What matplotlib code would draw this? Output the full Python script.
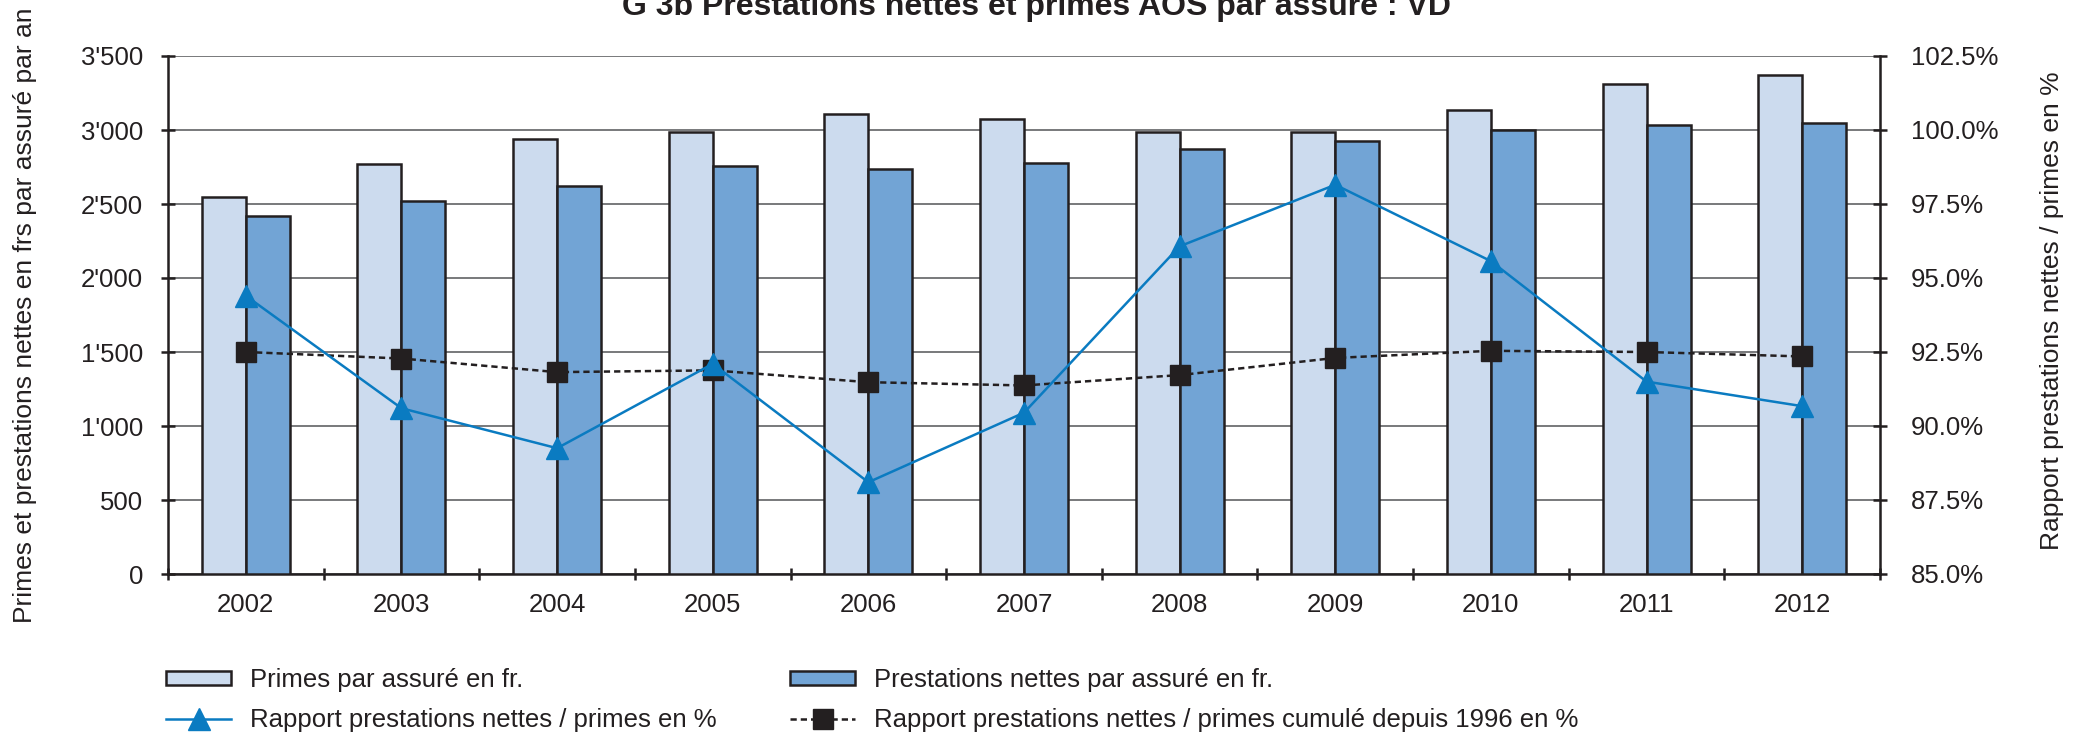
import matplotlib
matplotlib.use("Agg")
import matplotlib.pyplot as plt
import numpy as np
from matplotlib.patches import Patch
from matplotlib.lines import Line2D
from matplotlib.ticker import FuncFormatter, FixedLocator

plt.rcParams['font.family'] = ['Liberation Sans', 'DejaVu Sans']

# data
years = ['2002', '2003', '2004', '2005', '2006', '2007', '2008', '2009', '2010', '2011', '2012']
primes = [2547, 2768, 2942, 2986, 3106, 3077, 2986, 2986, 3133, 3312, 3369]
prestations = [2416, 2518, 2621, 2754, 2739, 2780, 2872, 2928, 3003, 3031, 3046]
rapport = [94.4, 90.6, 89.25, 92.1, 88.1, 90.45, 96.07, 98.15, 95.57, 91.5, 90.67]
rapport_cumul = [92.5, 92.28, 91.82, 91.88, 91.48, 91.37, 91.72, 92.3, 92.54, 92.5, 92.35]

c_primes = '#CCDBEE'
c_prest = '#72A4D5'
c_line = '#0A7BC1'
c_black = '#231F20'
c_grid = '#6D6E71'

W, H = 2087, 737
fig = plt.figure(figsize=(W / 100, H / 100), dpi=100)
ax = fig.add_axes([168 / W, 1 - 574 / H, (1880 - 168) / W, (574 - 56) / H])
ax2 = ax.twinx()

x = np.arange(len(years))
bw = 0.283
ax.bar(x - bw / 2, primes, bw, color=c_primes, edgecolor=c_black, linewidth=1.8, zorder=3)
ax.bar(x + bw / 2, prestations, bw, color=c_prest, edgecolor=c_black, linewidth=1.8, zorder=3)

ax2.plot(x, rapport, color=c_line, lw=1.8, marker='^', markersize=16,
         markerfacecolor=c_line, markeredgecolor=c_line, zorder=5)
ax2.plot(x, rapport_cumul, color=c_black, lw=1.8, linestyle=(0, (2.5, 1.6)),
         marker='s', markersize=15, markerfacecolor=c_black, markeredgecolor=c_black, zorder=4)

ax.set_xlim(-0.5, len(years) - 0.5)
ax.set_ylim(0, 3500)
ax2.set_ylim(85, 102.5)

ax.set_yticks(np.arange(0, 3501, 500))
ax.yaxis.set_major_formatter(FuncFormatter(lambda v, p: f"{int(v):,}".replace(",", "'")))
ax2.set_yticks(np.arange(85, 102.6, 2.5))
ax2.yaxis.set_major_formatter(FuncFormatter(lambda v, p: f"{v:.1f}%"))

ax.set_xticks(x)
ax.set_xticklabels(years)
ax.xaxis.set_minor_locator(FixedLocator(np.arange(-0.5, len(years), 1.0)))

ax.set_axisbelow(True)
ax.grid(axis='y', color=c_grid, lw=1.3)
ax.spines['top'].set_visible(False)
ax2.spines['top'].set_visible(False)
for sp in ['left', 'bottom']:
    ax.spines[sp].set_color(c_black)
    ax.spines[sp].set_linewidth(1.8)
ax2.spines['right'].set_color(c_black)
ax2.spines['right'].set_linewidth(1.8)
ax2.spines['left'].set_visible(False)
ax2.spines['bottom'].set_visible(False)

ax.tick_params(axis='y', direction='inout', length=10, width=1.8, color=c_black,
               labelsize=18.5, pad=13, labelcolor=c_black)
ax2.tick_params(axis='y', direction='inout', length=10, width=1.8, color=c_black,
                labelsize=18.5, pad=17, labelcolor=c_black)
ax.tick_params(axis='x', which='major', length=0, labelsize=18.5, pad=14, labelcolor=c_black)
ax.tick_params(axis='x', which='minor', direction='inout', length=8, width=1.8, color=c_black)

# title is cut at the top edge, as in the source image
fig.text(1036 / W, 1 - 15 / H, "G 3b Prestations nettes et primes AOS par assuré : VD",
         ha='center', va='baseline', fontsize=23, fontweight='bold', color=c_black)
fig.text(25 / W, 1 - 315 / H, "Primes et prestations nettes en frs par assuré par an",
         rotation=90, ha='center', va='center', fontsize=19, color=c_black)
fig.text(2052 / W, 1 - 311 / H, "Rapport prestations nettes / primes en %",
         rotation=90, ha='center', va='center', fontsize=19, color=c_black)

handles = [
    Patch(facecolor=c_primes, edgecolor=c_black, linewidth=1.8, label='Primes par assuré en fr.'),
    Line2D([], [], color=c_line, lw=1.8, marker='^', markersize=16, label='Rapport prestations nettes / primes en %'),
    Patch(facecolor=c_prest, edgecolor=c_black, linewidth=1.8, label='Prestations nettes par assuré en fr.'),
    Line2D([], [], color=c_black, lw=1.8, linestyle=(0, (2.5, 1.6)), marker='s', markersize=15,
           label='Rapport prestations nettes / primes cumulé depuis 1996 en %'),
]
fig.legend(handles=handles, ncol=2, loc='upper left', bbox_to_anchor=(166 / W, 1 - 668 / H),
           frameon=False, fontsize=18.5, borderpad=0, borderaxespad=0,
           handlelength=2.53, handleheight=0.45, handletextpad=0.74,
           columnspacing=2.87, labelspacing=0.64, numpoints=1,
           labelcolor=c_black)

fig.savefig("out.png", dpi=100)
